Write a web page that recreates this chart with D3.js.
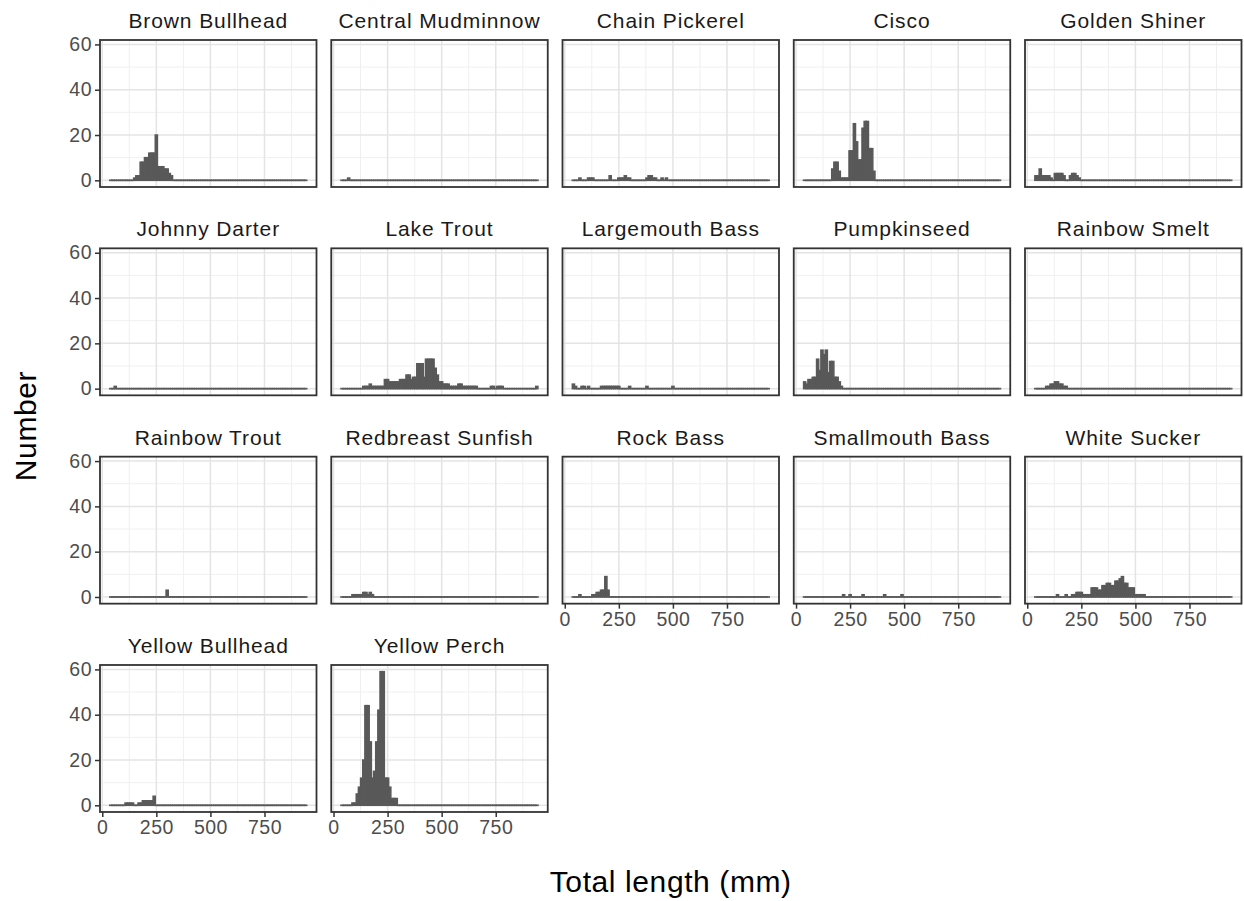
<!DOCTYPE html>
<html>
<head>
<meta charset="utf-8">
<script src="https://cdn.jsdelivr.net/npm/d3@7"></script>
<style>
  body { margin: 0; background: #ffffff; }
  svg { display: block; font-family: "Liberation Sans", Arial, sans-serif; }
</style>
</head>
<body>
<svg id="chart" width="1244" height="901"></svg>
<script>
// Species shown, one panel each (facet order)
const speciesNames = [
  "Brown Bullhead", "Central Mudminnow", "Chain Pickerel", "Cisco", "Golden Shiner",
  "Johnny Darter", "Lake Trout", "Largemouth Bass", "Pumpkinseed", "Rainbow Smelt",
  "Rainbow Trout", "Redbreast Sunfish", "Rock Bass", "Smallmouth Bass", "White Sucker",
  "Yellow Bullhead", "Yellow Perch"
];

// Fish counted per 10-mm total-length bin: [bin centre (mm), count]; empty bins omitted
const brownBullhead = [[150,1],[160,2],[170,2],[180,8],[190,8],[200,10],[210,10],[220,12],[230,12],[240,12],[250,20],[260,6],[270,6],[280,6],[290,5],[300,5],[310,3],[320,2]];
const centralMudminnow = [[70,1]];
const chainPickerel = [[70,1],[110,1],[120,1],[130,1],[210,2],[250,1],[260,1],[270,1],[280,2],[290,1],[300,1],[380,1],[390,2],[400,2],[410,1],[420,1],[450,1],[470,1]];
const cisco = [[170,5],[180,8],[190,8],[200,4],[210,1],[220,1],[230,1],[240,1],[250,13],[260,13],[270,25],[280,17],[290,9],[300,9],[310,23],[320,26],[330,26],[340,14],[350,14],[360,4]];
const goldenShiner = [[40,2],[50,2],[60,5],[70,2],[80,2],[90,2],[100,2],[110,1],[130,3],[140,3],[150,3],[160,3],[170,2],[200,2],[210,3],[220,3],[230,2],[240,1]];
const johnnyDarter = [[60,1]];
const lakeTrout = [[140,1],[150,1],[160,1],[170,2],[180,1],[190,1],[200,1],[210,1],[220,1],[230,1],[240,4],[250,4],[260,3],[270,3],[280,3],[290,3],[300,3],[310,4],[320,4],[330,4],[340,6],[350,6],[360,4],[370,5],[380,5],[390,11],[400,11],[410,11],[420,5],[430,13],[440,13],[450,13],[460,13],[470,9],[480,6],[490,3],[500,3],[510,2],[520,2],[530,2],[540,1],[550,1],[560,1],[570,1],[580,2],[590,2],[600,1],[610,1],[620,1],[630,1],[640,1],[650,1],[660,1],[730,1],[740,1],[760,1],[770,1],[780,1],[940,1]];
const largemouthBass = [[40,2],[50,1],[80,1],[90,1],[110,1],[170,1],[180,1],[190,1],[200,1],[210,1],[220,1],[230,1],[240,1],[250,1],[300,1],[380,1],[500,1]];
const pumpkinseed = [[40,3],[50,2],[60,4],[70,4],[80,5],[90,5],[100,13],[110,8],[120,17],[130,15],[140,17],[150,7],[160,12],[170,12],[180,5],[190,5],[200,3],[210,1]];
const rainbowSmelt = [[90,1],[100,1],[110,2],[120,2],[130,3],[140,3],[150,2],[160,2],[170,1],[180,1]];
const rainbowTrout = [[300,3]];
const redbreastSunfish = [[90,1],[100,1],[110,1],[120,1],[130,1],[140,2],[150,2],[160,1],[170,2],[180,1]];
const rockBass = [[70,1],[130,1],[140,1],[150,2],[160,2],[170,3],[180,3],[190,9],[200,3]];
const smallmouthBass = [[220,1],[250,1],[310,1],[410,1],[490,1]];
const whiteSucker = [[140,1],[180,1],[210,1],[220,1],[230,2],[240,2],[250,2],[260,1],[270,1],[280,1],[290,1],[300,4],[310,4],[320,4],[330,3],[340,3],[350,5],[360,5],[370,6],[380,6],[390,5],[400,5],[410,7],[420,7],[430,8],[440,9],[450,6],[460,6],[470,4],[480,4],[490,4],[500,1],[510,1],[520,1],[530,1],[540,1]];
const yellowBullhead = [[110,1],[120,1],[130,1],[140,1],[170,1],[180,1],[190,2],[200,2],[210,2],[220,2],[230,2],[240,4]];
const yellowPerch = [[90,1],[100,1],[110,5],[120,8],[130,12],[140,20],[150,44],[160,44],[170,28],[180,12],[190,15],[200,28],[210,42],[220,59],[230,59],[240,12],[250,12],[260,8],[270,3],[280,3],[290,3]];

const speciesCounts = [
  brownBullhead, centralMudminnow, chainPickerel, cisco, goldenShiner,
  johnnyDarter, lakeTrout, largemouthBass, pumpkinseed, rainbowSmelt,
  rainbowTrout, redbreastSunfish, rockBass, smallmouthBass, whiteSucker,
  yellowBullhead, yellowPerch
];

// Histogram binning shared by every panel
const binWidth = 10;
const firstBinCentre = 40;
const lastBinCentre = 940;

// Axis breaks
const xTicks = [0, 250, 500, 750];
const xMinorBreaks = [125, 375, 625, 875];
const yTicks = [0, 20, 40, 60];
const yMinorBreaks = [10, 30, 50];

// ---- layout ----
const nCols = 5;
const panelW = 216.5, panelH = 147;
const colStep = 231.25, rowStep = 208.33;
const originX = 100, originY = 40;

const svg = d3.select("#chart");
svg.append("rect").attr("width", 1244).attr("height", 901).attr("fill", "#ffffff");

const binCentres = d3.range(firstBinCentre, lastBinCentre + binWidth / 2, binWidth);
const lo = firstBinCentre - binWidth / 2, hi = lastBinCentre + binWidth / 2;
const xPad = 0.05 * (hi - lo);
const x = d3.scaleLinear().domain([lo - xPad, hi + xPad]).range([0, panelW]);

const maxCount = d3.max(speciesCounts, s => d3.max(s, d => d[1]));
const yPad = 0.05 * maxCount;
const y = d3.scaleLinear().domain([-yPad, maxCount + yPad]).range([panelH, 0]);

const barColour = "#595959";
const nPanels = speciesNames.length;
const tickFont = 19.5;

speciesNames.forEach((name, k) => {
  const col = k % nCols, row = Math.floor(k / nCols);
  const g = svg.append("g")
    .attr("transform", `translate(${originX + col * colStep},${originY + row * rowStep})`);

  // strip title
  g.append("text")
    .attr("x", panelW / 2).attr("y", -12)
    .attr("text-anchor", "middle")
    .attr("font-size", 21)
    .attr("letter-spacing", 0.9)
    .attr("fill", "#1a1a1a")
    .text(name);

  // grid
  const grid = g.append("g");
  grid.selectAll(".xminor").data(xMinorBreaks).join("line")
    .attr("x1", d => x(d)).attr("x2", d => x(d)).attr("y1", 0).attr("y2", panelH)
    .attr("stroke", "#f0f0f0").attr("stroke-width", 1);
  grid.selectAll(".yminor").data(yMinorBreaks).join("line")
    .attr("y1", d => y(d)).attr("y2", d => y(d)).attr("x1", 0).attr("x2", panelW)
    .attr("stroke", "#f0f0f0").attr("stroke-width", 1);
  grid.selectAll(".xmajor").data(xTicks).join("line")
    .attr("x1", d => x(d)).attr("x2", d => x(d)).attr("y1", 0).attr("y2", panelH)
    .attr("stroke", "#e4e4e4").attr("stroke-width", 1.5);
  grid.selectAll(".ymajor").data(yTicks).join("line")
    .attr("y1", d => y(d)).attr("y2", d => y(d)).attr("x1", 0).attr("x2", panelW)
    .attr("stroke", "#e4e4e4").attr("stroke-width", 1.5);

  // histogram bars; empty bins are drawn as a flat segment along zero
  const countByBin = new Map(speciesCounts[k]);
  const bins = binCentres.map(c => ({ c, n: countByBin.get(c) || 0 }));
  const hist = g.append("g");
  hist.selectAll("line").data(bins.filter(d => d.n === 0)).join("line")
    .attr("x1", d => x(d.c - binWidth / 2)).attr("x2", d => x(d.c + binWidth / 2))
    .attr("y1", y(0)).attr("y2", y(0))
    .attr("stroke", barColour).attr("stroke-width", 1.7).attr("stroke-linecap", "square");
  hist.selectAll("rect").data(bins.filter(d => d.n > 0)).join("rect")
    .attr("x", d => x(d.c - binWidth / 2))
    .attr("width", d => x(d.c + binWidth / 2) - x(d.c - binWidth / 2))
    .attr("y", d => y(d.n))
    .attr("height", d => y(0) - y(d.n))
    .attr("fill", barColour)
    .attr("stroke", barColour)
    .attr("stroke-width", 1.5);

  // panel border
  g.append("rect")
    .attr("width", panelW).attr("height", panelH)
    .attr("fill", "none").attr("stroke", "#333333").attr("stroke-width", 1.8);

  // y axis on the first column
  if (col === 0) {
    const yAxis = d3.axisLeft(y).tickValues(yTicks).tickSize(5).tickPadding(3);
    const ya = g.append("g").call(yAxis);
    ya.select(".domain").remove();
    ya.selectAll(".tick line").attr("stroke", "#333333").attr("stroke-width", 1.5);
    ya.selectAll(".tick text").attr("font-size", tickFont).attr("fill", "#4d4d4d")
      .attr("letter-spacing", 0.5)
      .attr("font-family", "Liberation Sans, Arial, sans-serif");
  }

  // x axis under the bottom panel of each column
  if (k + nCols >= nPanels) {
    const xAxis = d3.axisBottom(x).tickValues(xTicks).tickSize(5).tickPadding(3);
    const xa = g.append("g").attr("transform", `translate(0,${panelH})`).call(xAxis);
    xa.select(".domain").remove();
    xa.selectAll(".tick line").attr("stroke", "#333333").attr("stroke-width", 1.5);
    xa.selectAll(".tick text").attr("font-size", tickFont).attr("fill", "#4d4d4d")
      .attr("letter-spacing", 0.5)
      .attr("font-family", "Liberation Sans, Arial, sans-serif");
  }
});

// axis titles
svg.append("text")
  .attr("transform", `translate(36,${originY + (3 * rowStep + panelH) / 2}) rotate(-90)`)
  .attr("text-anchor", "middle")
  .attr("font-size", 30)
  .attr("letter-spacing", 0.6)
  .attr("fill", "#000000")
  .text("Number");

svg.append("text")
  .attr("x", originX + (4 * colStep + panelW) / 2)
  .attr("y", 892)
  .attr("text-anchor", "middle")
  .attr("font-size", 30)
  .attr("letter-spacing", 0.6)
  .attr("fill", "#000000")
  .text("Total length (mm)");
</script>
</body>
</html>
